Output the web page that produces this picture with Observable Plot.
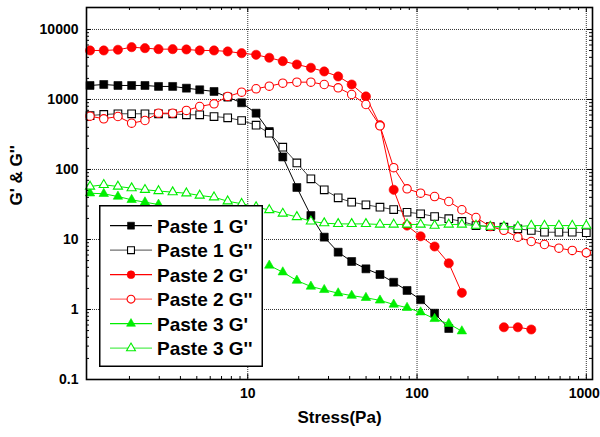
<!DOCTYPE html>
<html>
<head>
<meta charset="utf-8">
<script src="https://cdn.jsdelivr.net/npm/d3@7"></script>
<script src="https://cdn.jsdelivr.net/npm/@observablehq/plot@0.6"></script>
<style>
  html, body { margin: 0; padding: 0; background: #fff; }
  #wrap { position: relative; width: 600px; height: 437px; font-family: "Liberation Sans", Arial, sans-serif; }
  #legend { position: absolute; left: 99px; top: 205px; }
</style>
</head>
<body>
<div id="wrap"></div>
<script>
// ---- data ----
const stress = [1.17,1.41,1.71,2.06,2.47,2.97,3.6,4.34,5.2,6.32,7.61,9.2,11.2,13.4,16.1,19.5,23.6,28.3,34.2,41.1,49.9,60.4,72.8,87.3,105,127,154,184,223,271,326,394,473,566,689,826,1000];

const paste1G1 = [1585,1637,1585,1585,1585,1535,1535,1450,1376,1301,1080,897,637,349,151,55.3,22.0,10.8,6.59,4.85,3.81,3.16,2.45,1.87,1.38,0.885,0.535,
  null,null,null,null,null,null,null,null,null,null];
const paste1G2 = [590,611,625,625,625,625,625,604,604,571,548,501,430,330,208,124,73.6,51.3,39.4,34.1,31.3,28.9,26.8,24.5,23.3,21.3,19.8,18.1,15.8,15.3,15.0,14.2,13.5,12.7,12.7,12.7,12.5];
const paste2G1 = [5012,5012,5129,5585,5410,5236,5236,5180,5012,5012,4852,4581,4350,3945,3525,3162,2837,2512,2133,1637,1104,430,51.3,15.8,11.1,7.94,4.58,1.73,
  null,null,0.558,0.558,0.518,null,null,null,null];
const paste2G2 = [577,530,571,458,501,637,637,697,794,868,1104,1271,1422,1549,1709,1767,1767,1637,1469,1178,848,421,106,53,45.8,41.1,34.9,26.6,20.6,15.3,13.5,10.8,9.36,8.48,7.52,6.97,6.46];
const paste3G1 = [45.8,45.0,41.1,36.9,34.1,31.6,null,null,null,null,null,null,null,
  4.26,3.41,2.59,2.13,1.91,1.71,1.58,1.47,1.35,1.18,1.06,0.915,0.736,0.625,0.49,
  null,null,null,null,null,null,null,null,null];
const paste3G2 = [57.2,60.4,57.2,54.1,51.3,49.3,47.4,45.8,42.5,40.2,35.2,32.4,29.1,26.4,23.5,21.0,18.2,17.1,16.7,16.7,16.7,16.4,16.4,16.4,16.4,15.8,16.4,16.4,15.8,15.3,15.3,15.3,15.8,15.8,15.8,15.8,15.8];

const seriesNames = ["Paste 1 G'", "Paste 1 G''", "Paste 2 G'", "Paste 2 G''", "Paste 3 G'", "Paste 3 G''"];
const seriesValues = [paste1G1, paste1G2, paste2G1, paste2G2, paste3G1, paste3G2];

const xTicks = [10, 100, 1000];
const xTickLabels = ["10", "100", "1000"];
const yTicks = [0.1, 1, 10, 100, 1000, 10000];
const yTickLabels = ["0.1", "1", "10", "100", "1000", "10000"];
const xTitle = "Stress(Pa)";
const yTitle = "G' & G''";

// ---- styles ----
const styles = [
  {symbol: "square",   fill: "#000",    stroke: "#000",    line: "#000",    legendLine: "#000",    r: 4.5},
  {symbol: "square",   fill: "#fff",    stroke: "#000",    line: "#444",    legendLine: "#707070", r: 4.3},
  {symbol: "circle",   fill: "#ff0000", stroke: "#ff0000", line: "#ff0000", legendLine: "#ff0000", r: 4.6},
  {symbol: "circle",   fill: "#fff",    stroke: "#ff0000", line: "#ff0000", legendLine: "#ff7070", r: 4.2},
  {symbol: "triangle", fill: "#00ee00", stroke: "#00ee00", line: "#00ee00", legendLine: "#00ee00", r: 3.5},
  {symbol: "triangle", fill: "#fff",    stroke: "#00ee00", line: "#00ee00", legendLine: "#55ee55", r: 3.4}
];

const W = 600, H = 437;
const mL = 86, mR = 8, mT = 7, mB = 58;
const fw = W - mL - mR, fh = H - mT - mB;

// minor ticks of the log axes
const xMinor = [], yMinor = [];
for (const d of [1, 10, 100]) for (let k = 2; k <= 9; k++) xMinor.push(d * k);
for (const d of [0.1, 1, 10, 100, 1000]) for (let k = 2; k <= 9; k++) yMinor.push(d * k);
const xMinorIn = xMinor.filter(v => v > 1.115);

const seriesMarks = [];
seriesValues.forEach((vals, i) => {
  const s = styles[i];
  const rows = stress.map((x, j) => ({x, y: vals[j]}));
  seriesMarks.push(Plot.line(rows, {x: "x", y: "y", stroke: s.line, strokeWidth: 1}));
  seriesMarks.push(Plot.dot(rows, {x: "x", y: "y", symbol: s.symbol, r: s.r, fill: s.fill, stroke: s.stroke,
    strokeWidth: s.fill === "#fff" ? 1.1 : 0.6}));
});

const chart = Plot.plot({
  width: W, height: H,
  marginLeft: mL, marginRight: mR, marginTop: mT, marginBottom: mB,
  x: {type: "log", domain: [1.115, 1088], label: null},
  y: {type: "log", domain: [0.1, 20600], label: null},
  style: {background: "#fff", fontFamily: "'Liberation Sans', Arial, sans-serif", color: "#000"},
  marks: [
    // dotted grid
    Plot.ruleX(xTicks, {x: d => d, stroke: "#333", strokeWidth: 1, strokeDasharray: "1,1"}),
    Plot.ruleY(yTicks.slice(1), {y: d => d, stroke: "#333", strokeWidth: 1, strokeDasharray: "1,1"}),
    // inward ticks, bottom & top
    Plot.tickX(xMinorIn, {x: d => d, insetTop: fh - 3, stroke: "#000"}),
    Plot.tickX(xMinorIn, {x: d => d, insetBottom: fh - 3, stroke: "#000"}),
    Plot.tickX(xTicks, {x: d => d, insetTop: fh - 5, stroke: "#000"}),
    Plot.tickX(xTicks, {x: d => d, insetBottom: fh - 5, stroke: "#000"}),
    // inward ticks, left & right
    Plot.tickY(yMinor, {y: d => d, insetRight: fw - 3, stroke: "#000"}),
    Plot.tickY(yMinor, {y: d => d, insetLeft: fw - 3, stroke: "#000"}),
    Plot.tickY(yTicks, {y: d => d, insetRight: fw - 5, stroke: "#000"}),
    Plot.tickY(yTicks, {y: d => d, insetLeft: fw - 5, stroke: "#000"}),
    ...seriesMarks,
    Plot.frame({stroke: "#000", strokeWidth: 1.6}),
    // tick labels
    Plot.axisX(xTicks.slice(0, 2), {anchor: "bottom", tickSize: 0, tickPadding: 9, label: null,
      tickFormat: (d) => xTickLabels[xTicks.indexOf(d)], fontSize: 14, fontWeight: "bold"}),
    Plot.axisX(xTicks.slice(2), {anchor: "bottom", tickSize: 0, tickPadding: 9, label: null, dx: -2,
      tickFormat: (d) => xTickLabels[xTicks.indexOf(d)], fontSize: 14, fontWeight: "bold"}),
    Plot.axisY(yTicks, {anchor: "left", tickSize: 0, tickPadding: 8, label: null,
      tickFormat: (d) => yTickLabels[yTicks.indexOf(d)], fontSize: 14, fontWeight: "bold"}),
    // axis titles
    Plot.text([xTitle], {frameAnchor: "bottom", dy: 43, fontSize: 17, fontWeight: "bold", fill: "#000"}),
    Plot.text([yTitle], {frameAnchor: "left", dx: -70, dy: 12, rotate: -90, fontSize: 17, fontWeight: "bold", fill: "#000"})
  ]
});

const wrap = document.getElementById("wrap");
wrap.appendChild(chart);

// ---- legend overlay ----
const LW = 164, LH = 162;
const leg = d3.select(wrap).append("svg")
  .attr("id", "legend").attr("width", LW).attr("height", LH);
leg.append("rect").attr("x", 0.75).attr("y", 0.75).attr("width", LW - 1.5).attr("height", LH - 1.5)
  .attr("fill", "#fff").attr("stroke", "#000").attr("stroke-width", 1.5);
const symMap = {square: d3.symbolSquare, circle: d3.symbolCircle, triangle: d3.symbolTriangle};
seriesNames.forEach((name, i) => {
  const s = styles[i];
  const cy = 20.7 + i * 24.5;
  const g = leg.append("g");
  g.append("line").attr("x1", 11).attr("x2", 53).attr("y1", cy).attr("y2", cy)
    .attr("stroke", s.legendLine).attr("stroke-width", 1.2);
  const rr = s.symbol === "triangle" ? 3.3 : 3.9;
  g.append("path").attr("d", d3.symbol(symMap[s.symbol], Math.PI * rr * rr)())
    .attr("transform", `translate(32,${cy})`)
    .attr("fill", s.fill).attr("stroke", s.stroke).attr("stroke-width", s.fill === "#fff" ? 1.1 : 0.6);
  g.append("text").attr("x", 58).attr("y", cy).attr("dy", "0.36em")
    .attr("font-family", "'Liberation Sans', Arial, sans-serif").attr("font-weight", "bold")
    .attr("font-size", 19).attr("fill", "#000").text(name);
});
</script>
</body>
</html>
